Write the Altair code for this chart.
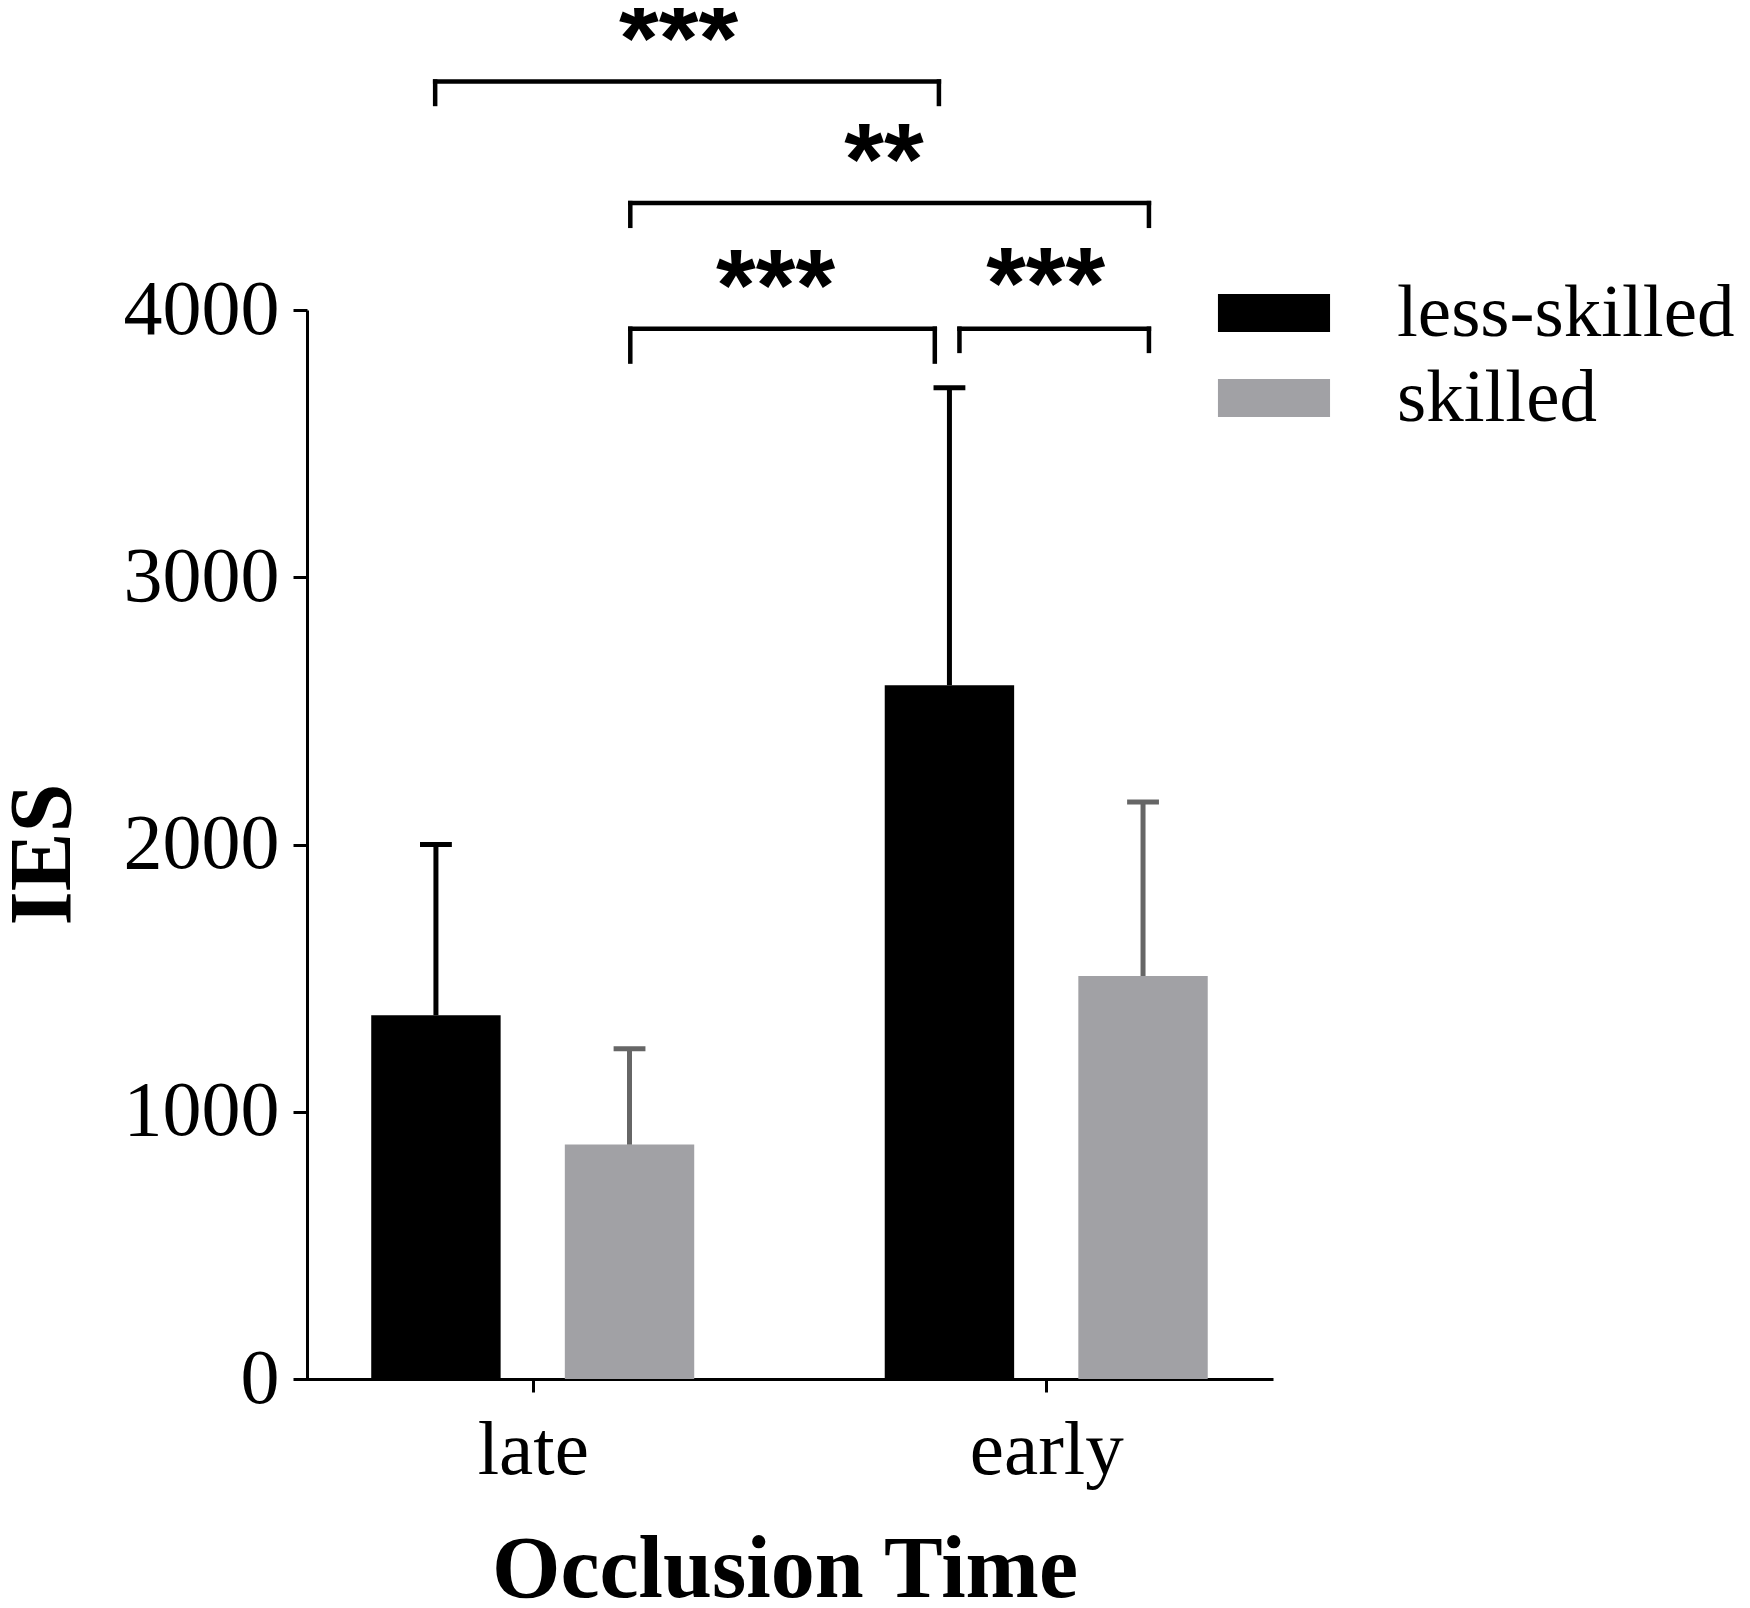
import altair as alt
import pandas as pd

# ---- data ----
GROUPS = ["late", "early"]                 # x categories (Occlusion Time)
SERIES = ["less-skilled", "skilled"]
MEAN_LESS = [1361, 2596]
MEAN_SKILLED = [877, 1508]
SD_LESS = [639, 1113]
SD_SKILLED = [359, 651]

# significance brackets (x in group units, y in IES units)
BR_X1 = [-0.19, 0.19, 0.19, 0.831]
BR_X2 = [0.791, 1.20, 0.783, 1.20]
BR_Y = [4855, 4400, 3930, 3930]
BR_LEG = [4771, 4315, 3807, 3847]
STAR_X = [0.284, 0.684, 0.473, 0.999]
STAR_Y = [5075, 4622, 4150, 4158]
STAR_TXT = ["***", "**", "***", "***"]

# ---- style ----
BAR_OFFSET = 0.1885
BAR_HALF = 0.126
CAP_HALF = 0.031
BAR_COLORS = ["#000000", "#a1a1a5"]
ERR_COLORS = ["#000000", "#666666"]
SERIF = "Liberation Serif"

rows = []
for gi, g in enumerate(GROUPS):
    for si, s in enumerate(SERIES):
        mean = (MEAN_LESS if si == 0 else MEAN_SKILLED)[gi]
        sd = (SD_LESS if si == 0 else SD_SKILLED)[gi]
        pos = gi + (-BAR_OFFSET if si == 0 else BAR_OFFSET)
        rows.append(dict(group=g, series=s, mean=mean, upper=mean + sd,
                         pos=pos, left=pos - BAR_HALF, right=pos + BAR_HALF,
                         capl=pos - CAP_HALF, capr=pos + CAP_HALF))
df = pd.DataFrame(rows)

segs = []
for x1, x2, y, leg in zip(BR_X1, BR_X2, BR_Y, BR_LEG):
    segs.append(dict(xa=x1, xb=x2, ya=y, yb=y))
    segs.append(dict(xa=x1, xb=x1, ya=y, yb=leg))
    segs.append(dict(xa=x2, xb=x2, ya=y, yb=leg))
seg_df = pd.DataFrame(segs)
star_df = pd.DataFrame(dict(x=STAR_X, y=STAR_Y, t=STAR_TXT))

label_expr = "[" + ",".join(f"'{g}'" for g in GROUPS) + "][datum.value]"

xscale = alt.Scale(domain=[-0.461, 1.4416], nice=False, zero=False)
yscale = alt.Scale(domain=[0, 4000], nice=False)

xaxis = alt.Axis(values=[0, 1], labelExpr=label_expr, title="Occlusion Time",
                 grid=False, domainColor="black", domainWidth=3,
                 tickColor="black", tickWidth=3, tickSize=13,
                 labelFont=SERIF, labelFontSize=77, labelColor="black",
                 labelPadding=20, labelFlush=False, labelOverlap=False,
                 titleFont=SERIF, titleFontSize=88, titleFontWeight="bold",
                 titleColor="black", titlePadding=38)
yaxis = alt.Axis(values=[0, 1000, 2000, 3000, 4000], title="IES", format="d",
                 grid=False, domainColor="black", domainWidth=3, offset=-11,
                 tickColor="black", tickWidth=3, tickSize=14,
                 labelFont=SERIF, labelFontSize=78, labelColor="black",
                 labelPadding=14, labelFlush=False, labelOverlap=False,
                 titleFont=SERIF, titleFontSize=88, titleFontWeight="bold",
                 titleColor="black", titlePadding=36, titleY=544)

legend = alt.Legend(title=None, orient="none", legendX=940.5, legendY=-34.5,
                    symbolType="M-2.95,-1H2.95V1H-2.95Z", symbolSize=1444,
                    symbolStrokeWidth=0, labelFont=SERIF, labelFontSize=75,
                    labelColor="black", labelOffset=85.5, labelLimit=0,
                    rowPadding=9, padding=0)

base = alt.Chart(df)

bars = base.mark_bar().encode(
    x=alt.X("left:Q", scale=xscale, axis=xaxis),
    x2="right:Q",
    y=alt.Y("mean:Q", scale=yscale, axis=yaxis),
    y2=alt.datum(0),
    color=alt.Color("series:N", scale=alt.Scale(domain=SERIES, range=BAR_COLORS),
                    legend=legend),
)

err_scale = alt.Scale(domain=SERIES, range=ERR_COLORS)
stems = base.mark_rule(strokeWidth=5).encode(
    x="pos:Q", y="mean:Q", y2="upper:Q",
    stroke=alt.Stroke("series:N", scale=err_scale, legend=None),
)
caps = base.mark_rule(strokeWidth=5).encode(
    x="capl:Q", x2="capr:Q", y="upper:Q",
    stroke=alt.Stroke("series:N", scale=err_scale, legend=None),
)

brackets = alt.Chart(seg_df).mark_rule(strokeWidth=4.5, color="black",
                                       strokeCap="square").encode(
    x="xa:Q", x2="xb:Q", y="ya:Q", y2="yb:Q")

stars = alt.Chart(star_df).mark_text(font="Liberation Sans", fontWeight="bold",
                                     fontSize=102, dy=50, baseline="alphabetic",
                                     align="center", color="black").encode(
    x="x:Q", y="y:Q", text="t:N")

chart = alt.layer(bars, stems, caps, brackets, stars).properties(
    width=977, height=1069,
    autosize=alt.AutoSizeParams(type="none"),
    padding={"left": 288, "top": 302, "right": 469, "bottom": 221},
).configure(background="white").configure_view(stroke=None)

chart.save("out.html", embed_options={"renderer": "svg", "actions": False})
